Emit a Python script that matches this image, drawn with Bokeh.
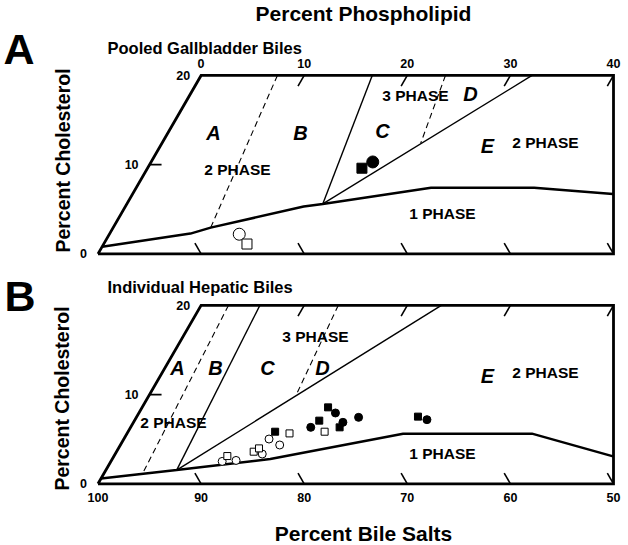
import math
from bokeh.plotting import figure
from bokeh.models import Range1d
from bokeh.core.properties import value
from bokeh.embed import file_html
from bokeh.resources import INLINE

# ---------------- data (percent bile salts, percent cholesterol) ----------------
frame_bs = [100, 80, 40, 50, 100]
frame_ch = [0, 20, 20, 0, 0]

# Panel A: pooled gallbladder biles
a_one_phase_bs = [99.2, 89.9, 87.6, 77.4, 75.4, 64.0, 54.0, 46.7]
a_one_phase_ch = [0.8, 2.27, 2.94, 5.3, 5.6, 7.4, 7.4, 6.7]
a_ab_bs = [72.6, 87.6]
a_ab_ch = [20, 2.94]
a_bc_bs = [63.4, 75.4]
a_bc_ch = [20, 5.6]
a_ce_bs = [75.4, 47.9]
a_ce_ch = [5.6, 20]
a_cd_bs = [56.3, 62.5]
a_cd_ch = [20, 12.4]

a_open_circle_bs = [85.2]
a_open_circle_ch = [2.2]
a_open_square_bs = [85.0]
a_open_square_ch = [1.1]
a_fill_square_bs = [69.6]
a_fill_square_ch = [9.6]
a_fill_circle_bs = [68.2]
a_fill_circle_ch = [10.3]

# Panel B: individual hepatic biles
b_one_phase_bs = [99.4, 91.6, 81.9, 67.6, 55.1, 48.5]
b_one_phase_ch = [0.6, 1.54, 2.78, 5.62, 5.62, 3.07]
b_ab_bs = [77.35, 95.1]
b_ab_ch = [20, 1.15]
b_bc_bs = [74.3, 91.6]
b_bc_ch = [20, 1.54]
b_cd_bs = [66.7, 75.85]
b_cd_ch = [20, 9.9]
b_ce_bs = [91.6, 56.7]
b_ce_ch = [1.54, 20]

b_open_circle_bs = [86.7, 85.3, 82.4, 80.9, 80.2]
b_open_circle_ch = [2.51, 2.62, 3.34, 5.02, 4.35]
b_open_square_bs = [85.9, 83.1, 82.4, 78.6, 75.1]
b_open_square_ch = [3.11, 3.60, 3.97, 5.65, 5.84]
b_fill_square_bs = [79.9, 75.0, 73.4, 73.4, 65.2]
b_fill_square_ch = [5.84, 7.08, 8.57, 6.33, 7.53]
b_fill_circle_bs = [76.2, 73.0, 72.8, 71.0, 64.5]
b_fill_circle_ch = [6.33, 7.94, 6.89, 7.45, 7.19]

# axis ticks
pl_ticks = [0, 10, 20, 30, 40]
pl_labels = ["0", "10", "20", "30", "40"]
ch_ticks = [0, 10, 20]
ch_labels = ["0", "10", "20"]
bs_ticks = [100, 90, 80, 70, 60, 50]
bs_labels = ["100", "90", "80", "70", "60", "50"]

# ---------------- geometry ----------------
W, H = 628, 545
XS, YS = 10.31, 8.92          # pixels per percent unit
X0 = -97.5 / XS
X1 = X0 + W / XS
Y1 = 483.3 / YS
Y0 = Y1 - H / YS
OFF_A = 25.78   # vertical offset of panel A (in cholesterol units)
OFF_B = 0.0

FONT = value("Liberation Sans")


def tx(bs, ch):
    # triangular coordinates -> plot x (phospholipid + cholesterol/2)
    return [100 - b - c / 2.0 for b, c in zip(bs, ch)]


def ty(ch, off):
    return [c + off for c in ch]


def sx(px):
    return X0 + px / XS


def sy(py):
    return Y1 - py / YS


p = figure(width=W, height=H, x_range=Range1d(X0, X1), y_range=Range1d(Y0, Y1),
           output_backend="svg", toolbar_location=None,
           x_axis_type=None, y_axis_type=None, min_border=0)
p.grid.visible = False
p.outline_line_color = None
p.background_fill_color = "white"
p.border_fill_color = "white"


def txt(x, y, s, size, align="center", baseline="middle", style="bold", angle=0.0,
        xo=0, yo=0):
    p.text(x=x, y=y, text=s, text_font=FONT, text_font_size=size,
           text_font_style=style, text_align=align, text_baseline=baseline,
           angle=angle, x_offset=xo, y_offset=yo, text_color="black")


def panel(off, one_bs, one_ch, ab, bc, ce, cd, markers, msize, top_labels, bottom_labels):
    # frame
    p.line(tx(frame_bs, frame_ch), ty(frame_ch, off), line_color="black",
           line_width=2.8, line_join="miter")
    # 1-phase boundary
    p.line(tx(one_bs, one_ch), ty(one_ch, off), line_color="black", line_width=2.5)
    # solid internal boundaries
    for bs, ch in (bc, ce):
        p.line(tx(bs, ch), ty(ch, off), line_color="black", line_width=1.4)
    # dashed boundaries
    for bs, ch in (ab, cd):
        p.line(tx(bs, ch), ty(ch, off), line_color="black", line_width=1.1,
               line_dash="6 4")
    # ticks: top (constant phospholipid), bottom (constant bile salt), left
    t = 1.2
    for pl in pl_ticks[1:]:
        bs0 = 100 - pl - 20
        p.line(tx([bs0, bs0 + t], [20, 20 - t]), ty([20, 20 - t], off),
               line_color="black", line_width=1.6)
    for bs in bs_ticks[1:]:
        p.line(tx([bs, bs], [0, t]), ty([0, t], off), line_color="black", line_width=1.6)
    cx = tx([90], [10])[0]
    p.line([cx, cx + 12 / XS], ty([10, 10], off), line_color="black", line_width=1.6)
    # tick labels
    txt([c / 2.0 for c in ch_ticks], ty(ch_ticks, off), ch_labels, "12.5px",
        align="right", xo=-11)
    if top_labels:
        txt([pl + 10 for pl in pl_ticks], ty([20] * len(pl_ticks), off), pl_labels,
            "12.5px", yo=-12)
    if bottom_labels:
        txt([100 - b for b in bs_ticks], ty([0] * len(bs_ticks), off), bs_labels,
            "12.5px", yo=14)
    # markers
    (ocb, occ), (osb, osc), (fsb, fsc), (fcb, fcc) = markers
    cs, ss = msize
    p.scatter(tx(ocb, occ), ty(occ, off), marker="circle", size=cs,
              fill_color="white", line_color="black", line_width=1)
    p.scatter(tx(osb, osc), ty(osc, off), marker="square", size=ss,
              fill_color="white", line_color="black", line_width=1)
    p.scatter(tx(fsb, fsc), ty(fsc, off), marker="square", size=ss,
              fill_color="black", line_color="black")
    p.scatter(tx(fcb, fcc), ty(fcc, off), marker="circle", size=cs,
              fill_color="black", line_color="black")


panel(OFF_A, a_one_phase_bs, a_one_phase_ch,
      (a_ab_bs, a_ab_ch), (a_bc_bs, a_bc_ch), (a_ce_bs, a_ce_ch), (a_cd_bs, a_cd_ch),
      ((a_open_circle_bs, a_open_circle_ch), (a_open_square_bs, a_open_square_ch),
       (a_fill_square_bs, a_fill_square_ch), (a_fill_circle_bs, a_fill_circle_ch)),
      (12, 10), True, False)
panel(OFF_B, b_one_phase_bs, b_one_phase_ch,
      (b_ab_bs, b_ab_ch), (b_bc_bs, b_bc_ch), (b_ce_bs, b_ce_ch), (b_cd_bs, b_cd_ch),
      ((b_open_circle_bs, b_open_circle_ch), (b_open_square_bs, b_open_square_ch),
       (b_fill_square_bs, b_fill_square_ch), (b_fill_circle_bs, b_fill_circle_ch)),
      (8, 7), False, True)

# ---------------- titles and labels ----------------
txt([sx(363)], [sy(13)], ["Percent Phospholipid"], "21px")
txt([sx(363)], [sy(533)], ["Percent Bile Salts"], "21px")
txt([sx(3)], [sy(48)], ["A"], "43px", align="left")
txt([sx(4)], [sy(295)], ["B"], "43px", align="left")
txt([sx(107)], [sy(47)], ["Pooled Gallbladder Biles"], "16.5px", align="left")
txt([sx(107)], [sy(286)], ["Individual Hepatic Biles"], "16.5px", align="left")
txt([sx(62), sx(61)], [sy(160), sy(398)], ["Percent Cholesterol"] * 2, "19.5px",
    angle=math.pi / 2)

# region letters
reg_x = [213, 300, 382, 470, 487, 177, 215, 267, 322, 487]
reg_y = [132, 132, 130, 93, 145, 367, 367, 367, 367, 375]
reg_t = ["A", "B", "C", "D", "E", "A", "B", "C", "D", "E"]
txt([sx(v) for v in reg_x], [sy(v) for v in reg_y], reg_t, "20px", style="bold italic")

ph_x = [237, 415, 545, 442, 315, 173, 545, 442]
ph_y = [169, 95, 142, 213, 336, 422, 372, 453]
ph_t = ["2 PHASE", "3 PHASE", "2 PHASE", "1 PHASE", "3 PHASE", "2 PHASE", "2 PHASE", "1 PHASE"]
txt([sx(v) for v in ph_x], [sy(v) for v in ph_y], ph_t, "15.5px")

open("out.html", "w").write(file_html(p, INLINE))
